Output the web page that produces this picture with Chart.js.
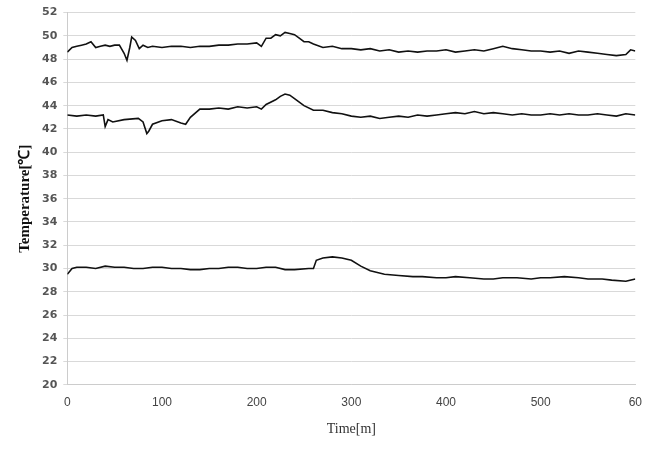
<!DOCTYPE html>
<html><head><meta charset="utf-8">
<script src="https://cdn.jsdelivr.net/npm/chart.js@4"></script>
<style>html,body{margin:0;padding:0;background:#fff}#w{width:645px;height:451px}</style>
</head><body><div id="w"><canvas id="c"></canvas></div>
<script>
const xTop = [0,5,10,15,20,25,30,35,40,45,50,55,60,63,66,68,72,76,80,85,90,100,110,120,130,140,150,160,170,180,190,200,205,210,215,220,225,230,235,240,245,250,255,260,270,280,290,300,310,320,330,340,350,360,370,380,390,400,410,420,430,440,450,460,470,480,490,500,510,520,530,540,550,560,570,580,590,595,600];
const yTop = [48.6,49.0,49.1,49.2,49.3,49.5,49.0,49.1,49.2,49.1,49.2,49.2,48.5,47.9,49.0,49.9,49.6,48.9,49.2,49.0,49.1,49.0,49.1,49.1,49.0,49.1,49.1,49.2,49.2,49.3,49.3,49.4,49.1,49.8,49.8,50.1,50.0,50.3,50.2,50.1,49.8,49.5,49.5,49.3,49.0,49.1,48.9,48.9,48.8,48.9,48.7,48.8,48.6,48.7,48.6,48.7,48.7,48.8,48.6,48.7,48.8,48.7,48.9,49.1,48.9,48.8,48.7,48.7,48.6,48.7,48.5,48.7,48.6,48.5,48.4,48.3,48.4,48.8,48.7];
const xMid = [0,10,20,30,38,40,43,48,60,75,80,84,86,90,100,110,120,125,130,140,150,160,170,180,190,200,205,210,220,225,230,235,240,250,260,270,280,290,300,310,320,330,340,350,360,370,380,390,400,410,420,430,440,450,460,470,480,490,500,510,520,530,540,550,560,570,580,590,600];
const yMid = [43.2,43.1,43.2,43.1,43.2,42.2,42.8,42.6,42.8,42.9,42.6,41.6,41.8,42.4,42.7,42.8,42.5,42.4,43.0,43.7,43.7,43.8,43.7,43.9,43.8,43.9,43.7,44.1,44.5,44.8,45.0,44.9,44.6,44.0,43.6,43.6,43.4,43.3,43.1,43.0,43.1,42.9,43.0,43.1,43.0,43.2,43.1,43.2,43.3,43.4,43.3,43.5,43.3,43.4,43.3,43.2,43.3,43.2,43.2,43.3,43.2,43.3,43.2,43.2,43.3,43.2,43.1,43.3,43.2];
const xBot = [0,5,10,20,30,40,50,60,70,80,90,100,110,120,130,140,150,160,170,180,190,200,210,220,230,240,255,260,263,270,280,290,300,310,320,335,350,365,375,390,400,410,425,440,450,460,475,490,500,510,525,540,550,565,575,590,600];
const yBot = [29.5,30.0,30.1,30.1,30.0,30.2,30.1,30.1,30.0,30.0,30.1,30.1,30.0,30.0,29.9,29.9,30.0,30.0,30.1,30.1,30.0,30.0,30.1,30.1,29.9,29.9,30.0,30.0,30.7,30.9,31.0,30.9,30.7,30.2,29.8,29.5,29.4,29.3,29.3,29.2,29.2,29.3,29.2,29.1,29.1,29.2,29.2,29.1,29.2,29.2,29.3,29.2,29.1,29.1,29.0,28.9,29.1];
const yTicks = [20,22,24,26,28,30,32,34,36,38,40,42,44,46,48,50,52];
const xTicks = [0,100,200,300,400,500,600];
const xLabels = ['0','100','200','300','400','500','60'];
const mk = (xs, ys) => ({data: xs.map((x,i)=>({x, y: ys[i]})), borderColor:'#111', borderWidth:1.6, pointRadius:0, tension:0, fill:false});
new Chart(document.getElementById('c'), {
  type:'line',
  data:{datasets:[mk(xTop,yTop), mk(xMid,yMid), mk(xBot,yBot)]},
  options:{
    responsive:true, maintainAspectRatio:false, animation:false,
    layout:{padding:{top:7,right:-5,left:12,bottom:9}},
    plugins:{legend:{display:false}, tooltip:{enabled:false}},
    scales:{
      x:{type:'linear', min:0, max:600,
        afterBuildTicks:s=>{s.ticks=xTicks.map(v=>({value:v}));},
        ticks:{callback:(v)=>xLabels[xTicks.indexOf(v)], color:'#444', font:{family:'Liberation Sans Narrow, Arial Narrow, sans-serif', size:12}, maxRotation:0, autoSkip:false},
        grid:{display:false}, border:{color:'#ccc'},
        title:{display:true, text:'Time[m]', color:'#333', font:{family:'Liberation Serif, serif', size:14}, padding:{top:8}}},
      y:{min:20, max:52,
        afterBuildTicks:s=>{s.ticks=yTicks.map(v=>({value:v}));},
        ticks:{color:'#555', font:{family:'DejaVu Sans, sans-serif', size:11, weight:'bold'}, padding:6},
        grid:{color:'#d9d9d9', tickLength:4}, border:{color:'#ccc'},
        title:{display:true, text:'Temperature[℃]', color:'#111', font:{family:'Liberation Serif, serif', size:15, weight:'bold'}, padding:{bottom:2}}}
    }
  }
});
</script></body></html>
